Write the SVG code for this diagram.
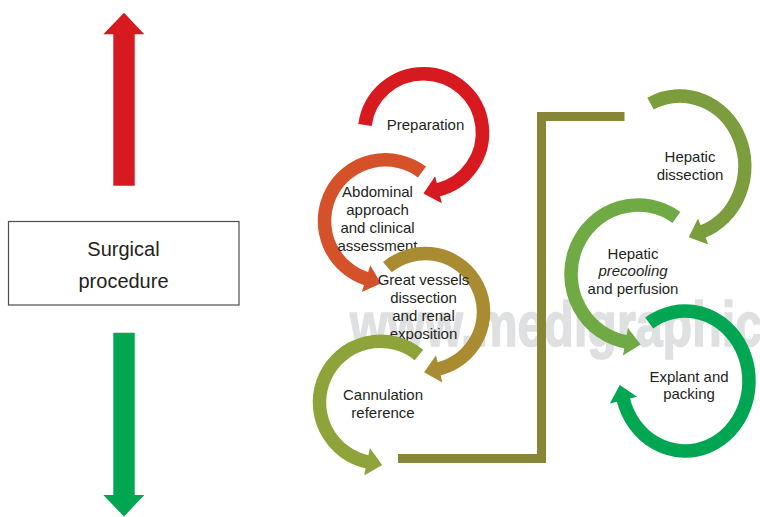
<svg xmlns="http://www.w3.org/2000/svg" xmlns:xlink="http://www.w3.org/1999/xlink" width="760" height="517" viewBox="0 0 760 517">
  <style>
    .lbl { font-family: "Liberation Sans", Arial, Helvetica, sans-serif; font-size: 15px; fill: #231f20; text-anchor: middle; }
    .box-lbl { font-size: 20px; }
    .ring { fill: none; stroke-width: 13.5; stroke-linecap: butt; }
    .wm { font-family: "Liberation Sans", Arial, Helvetica, sans-serif; font-weight: bold; font-size: 63px; fill: #dfe0e2; stroke: #dfe0e2; stroke-width: 1.6; }
    .elbow { fill: none; stroke: #878636; stroke-width: 9; stroke-linejoin: miter; }
  </style>
  <defs>
    <!-- arrowhead shape shared by all circular arrows; base overlaps the stroke by 1px -->
    <path id="ah" d="M-1,-14 L14.5,0 L-1,14 Z"/>
    <marker id="head-red" markerUnits="userSpaceOnUse" viewBox="-20 -20 40 40" markerWidth="40" markerHeight="40" refX="0" refY="0" orient="auto" overflow="visible"><use xlink:href="#ah" fill="#d71920"/></marker>
    <marker id="head-orange" markerUnits="userSpaceOnUse" viewBox="-20 -20 40 40" markerWidth="40" markerHeight="40" refX="0" refY="0" orient="auto" overflow="visible"><use xlink:href="#ah" fill="#d5512a"/></marker>
    <marker id="head-gold" markerUnits="userSpaceOnUse" viewBox="-20 -20 40 40" markerWidth="40" markerHeight="40" refX="0" refY="0" orient="auto" overflow="visible"><use xlink:href="#ah" fill="#a98b31"/></marker>
    <marker id="head-olive" markerUnits="userSpaceOnUse" viewBox="-20 -20 40 40" markerWidth="40" markerHeight="40" refX="0" refY="0" orient="auto" overflow="visible"><use xlink:href="#ah" fill="#8fa33b"/></marker>
    <marker id="head-moss" markerUnits="userSpaceOnUse" viewBox="-20 -20 40 40" markerWidth="40" markerHeight="40" refX="0" refY="0" orient="auto" overflow="visible"><use xlink:href="#ah" fill="#7b9d3d"/></marker>
    <marker id="head-leaf" markerUnits="userSpaceOnUse" viewBox="-20 -20 40 40" markerWidth="40" markerHeight="40" refX="0" refY="0" orient="auto" overflow="visible"><use xlink:href="#ah" fill="#70aa45"/></marker>
    <marker id="head-green" markerUnits="userSpaceOnUse" viewBox="-20 -20 40 40" markerWidth="40" markerHeight="40" refX="0" refY="0" orient="auto" overflow="visible"><use xlink:href="#ah" fill="#00a651"/></marker>
  </defs>

  <rect width="760" height="517" fill="#ffffff"/>

  <!-- watermark, runs off the right edge -->
  <text class="wm" x="350" y="346" textLength="412" lengthAdjust="spacingAndGlyphs">www.medigraphic</text>

  <!-- vertical axis arrows -->
  <g id="axis-up">
    <polygon points="124,12.7 144.3,34.3 134.7,34.3 134.7,185.7 113.3,185.7 113.3,34.3 103.3,34.3" fill="#d71920"/>
  </g>
  <g id="axis-down">
    <polygon points="113.3,332.7 134.7,332.7 134.7,495 144.3,495 124,516.5 103.3,495 113.3,495" fill="#00a651"/>
  </g>

  <g id="surgical-procedure">
    <rect x="8.5" y="221.5" width="230.5" height="83.5" fill="#ffffff" stroke="#4d4d4d" stroke-width="1.2"/>
    <text class="lbl box-lbl" x="123.5" y="256">Surgical</text>
    <text class="lbl box-lbl" x="123.5" y="287.5">procedure</text>
  </g>

  <!-- elbow connector between the two columns -->
  <g id="connectors">
    <polyline class="elbow" points="398,458.5 541.5,458.5 541.5,116.5 624.5,116.5"/>
  </g>

  <g id="preparation">
    <path class="ring" stroke="#d71920" marker-end="url(#head-red)" d="M365,125 A59,59 0 1 1 437.5,190"/>
    <text class="lbl" x="425.5" y="130">Preparation</text>
  </g>

  <g id="abdominal-approach">
    <path class="ring" stroke="#d5512a" marker-end="url(#head-orange)" d="M422,172 A61,61 0 1 0 367,279"/>
    <text class="lbl" x="377.5" y="196.5">Abdominal</text>
    <text class="lbl" x="377.5" y="214.5">approach</text>
    <text class="lbl" x="377.5" y="232.5">and clinical</text>
    <text class="lbl" x="377.5" y="250.5">assessment</text>
  </g>

  <g id="great-vessels">
    <path class="ring" stroke="#a98b31" marker-end="url(#head-gold)" d="M387.4,267.2 A58.5,58.5 0 1 1 438.2,369"/>
    <text class="lbl" x="423.5" y="284.5">Great vessels</text>
    <text class="lbl" x="423.5" y="302.5">dissection</text>
    <text class="lbl" x="423.5" y="320.5">and renal</text>
    <text class="lbl" x="423.5" y="338.5">exposition</text>
  </g>

  <g id="cannulation">
    <path class="ring" stroke="#8fa33b" marker-end="url(#head-olive)" d="M419,355 A61,61 0 1 0 368,462"/>
    <text class="lbl" x="383" y="399.5">Cannulation</text>
    <text class="lbl" x="383" y="417.5">reference</text>
  </g>

  <g id="hepatic-dissection">
    <path class="ring" stroke="#7b9d3d" marker-end="url(#head-moss)" d="M650.5,103.6 A65,70 0 1 1 702.2,231.8"/>
    <text class="lbl" x="690" y="162">Hepatic</text>
    <text class="lbl" x="690" y="180">dissection</text>
  </g>

  <g id="hepatic-precooling">
    <path class="ring" stroke="#70aa45" marker-end="url(#head-leaf)" d="M676.4,217.5 A67,69 0 1 0 626.4,342"/>
    <text class="lbl" x="633" y="258.5">Hepatic</text>
    <text class="lbl" x="633" y="276" font-style="italic">precooling</text>
    <text class="lbl" x="633" y="293.5">and perfusion</text>
  </g>

  <g id="explant-packing">
    <path class="ring" stroke="#00a651" marker-end="url(#head-green)" d="M649.2,323 A64,70 0 1 1 623.2,399.1"/>
    <text class="lbl" x="689" y="382">Explant and</text>
    <text class="lbl" x="689" y="399">packing</text>
  </g>
</svg>
